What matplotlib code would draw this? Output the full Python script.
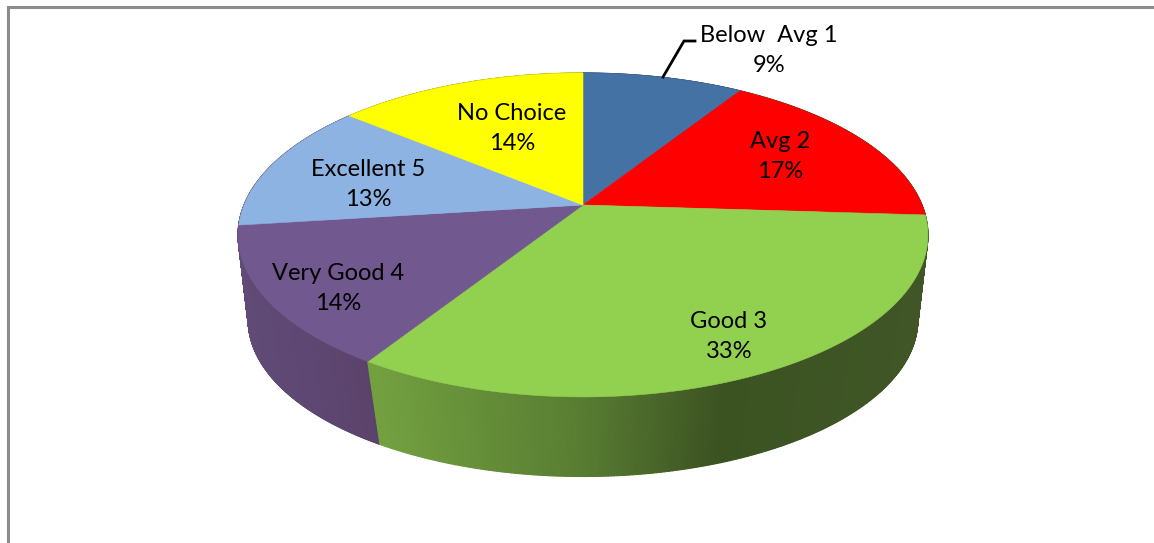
import numpy as np
import matplotlib
matplotlib.use("Agg")
import matplotlib.pyplot as plt
from matplotlib.colors import to_rgb
from matplotlib.collections import PolyCollection
from matplotlib.patches import Polygon

categories = ["Below  Avg 1", "Avg 2", "Good 3", "Very Good 4", "Excellent 5", "No Choice"]
values = [9, 17, 33, 14, 13, 14]

# pixel centres of the two line data labels
label_x = [769, 780, 729, 338, 368, 512]
label_y = [50.5, 156.5, 336.5, 288.5, 184.5, 128.5]

top_colors = ["#4472a5", "#ff0000", "#92d050", "#71588f", "#8db3e2", "#ffff00"]
# side shading: (x, colour) stops per slice
side_stops = [
    [(583, "#2f4f75"), (738, "#2f4f75")],
    [(738, "#405626"), (927, "#405626")],
    [(375, "#72a03f"), (583, "#587c32"), (725, "#3b5221"), (927, "#405626")],
    [(238, "#604a76"), (300, "#5e4873"), (380, "#5a4169")],
    [(238, "#604a76"), (355, "#604a76")],
    [(355, "#a0a000"), (583, "#a0a000")],
]
# back slices first
side_order = [5, 0, 1, 4, 3, 2]

plt.rcParams['font.family'] = ['Lato', 'DejaVu Sans']


def project(theta, y0, a, b, k):
    # tilted circle with perspective, theta clockwise from the top
    u, v = np.sin(theta), np.cos(theta)
    w = 1 + k*v
    return 583 + a*u/w, y0 - b*v/w


def top_ring(theta):
    return project(theta, 205, 339, 156.4, 0.185)


def bottom_ring(theta):
    return project(theta, 296.5, 331, 153, 0.15)


def shade(stops, x):
    xs = [s[0] for s in stops]
    rgb = np.array([to_rgb(s[1]) for s in stops])
    return [np.interp(x, xs, rgb[:, i]) for i in range(3)]


fig = plt.figure(figsize=(11.54, 5.43), dpi=100)
ax = fig.add_axes([0, 0, 1, 1])
ax.set_xlim(0, 1154)
ax.set_ylim(543, 0)
ax.axis("off")

# frame, only top and left are in view
ax.plot([7.5, 7.5, 1154], [543, 6.5, 6.5], color="#8c8c8c", lw=2.2, solid_joinstyle="miter")

edges = np.cumsum([0] + values)/sum(values)*2*np.pi

# sides first, they get covered by the top face
for z, i in enumerate(side_order):
    th = np.linspace(edges[i], edges[i+1], 300)
    xt, yt = top_ring(th)
    xb, yb = bottom_ring(th)
    polys, cols = [], []
    for j in range(len(th)-1):
        polys.append([(xt[j], yt[j]), (xt[j+1], yt[j+1]), (xb[j+1], yb[j+1]), (xb[j], yb[j])])
        cols.append(shade(side_stops[i], (xt[j]+xt[j+1])/2))
    ax.add_collection(PolyCollection(polys, facecolors=cols, edgecolors=cols, linewidths=0.8, zorder=2+z*0.01))

# top face
for i in range(len(values)):
    th = np.linspace(edges[i], edges[i+1], 200)
    x, y = top_ring(th)
    pts = [(583, 205)] + list(zip(x, y))
    ax.add_patch(Polygon(pts, closed=True, facecolor=top_colors[i], edgecolor=top_colors[i], lw=0.4, zorder=3))

# leader line of the first label
ax.plot([663, 684, 695], [77, 41, 41], color="black", lw=2, zorder=4, solid_joinstyle="miter")

for name, val, lx, ly in zip(categories, values, label_x, label_y):
    ax.text(lx, ly, f"{name}\n{val}%", ha="center", va="center", fontsize=17,
            color="black", linespacing=1.5, zorder=5)

fig.savefig("out.png", dpi=100)
